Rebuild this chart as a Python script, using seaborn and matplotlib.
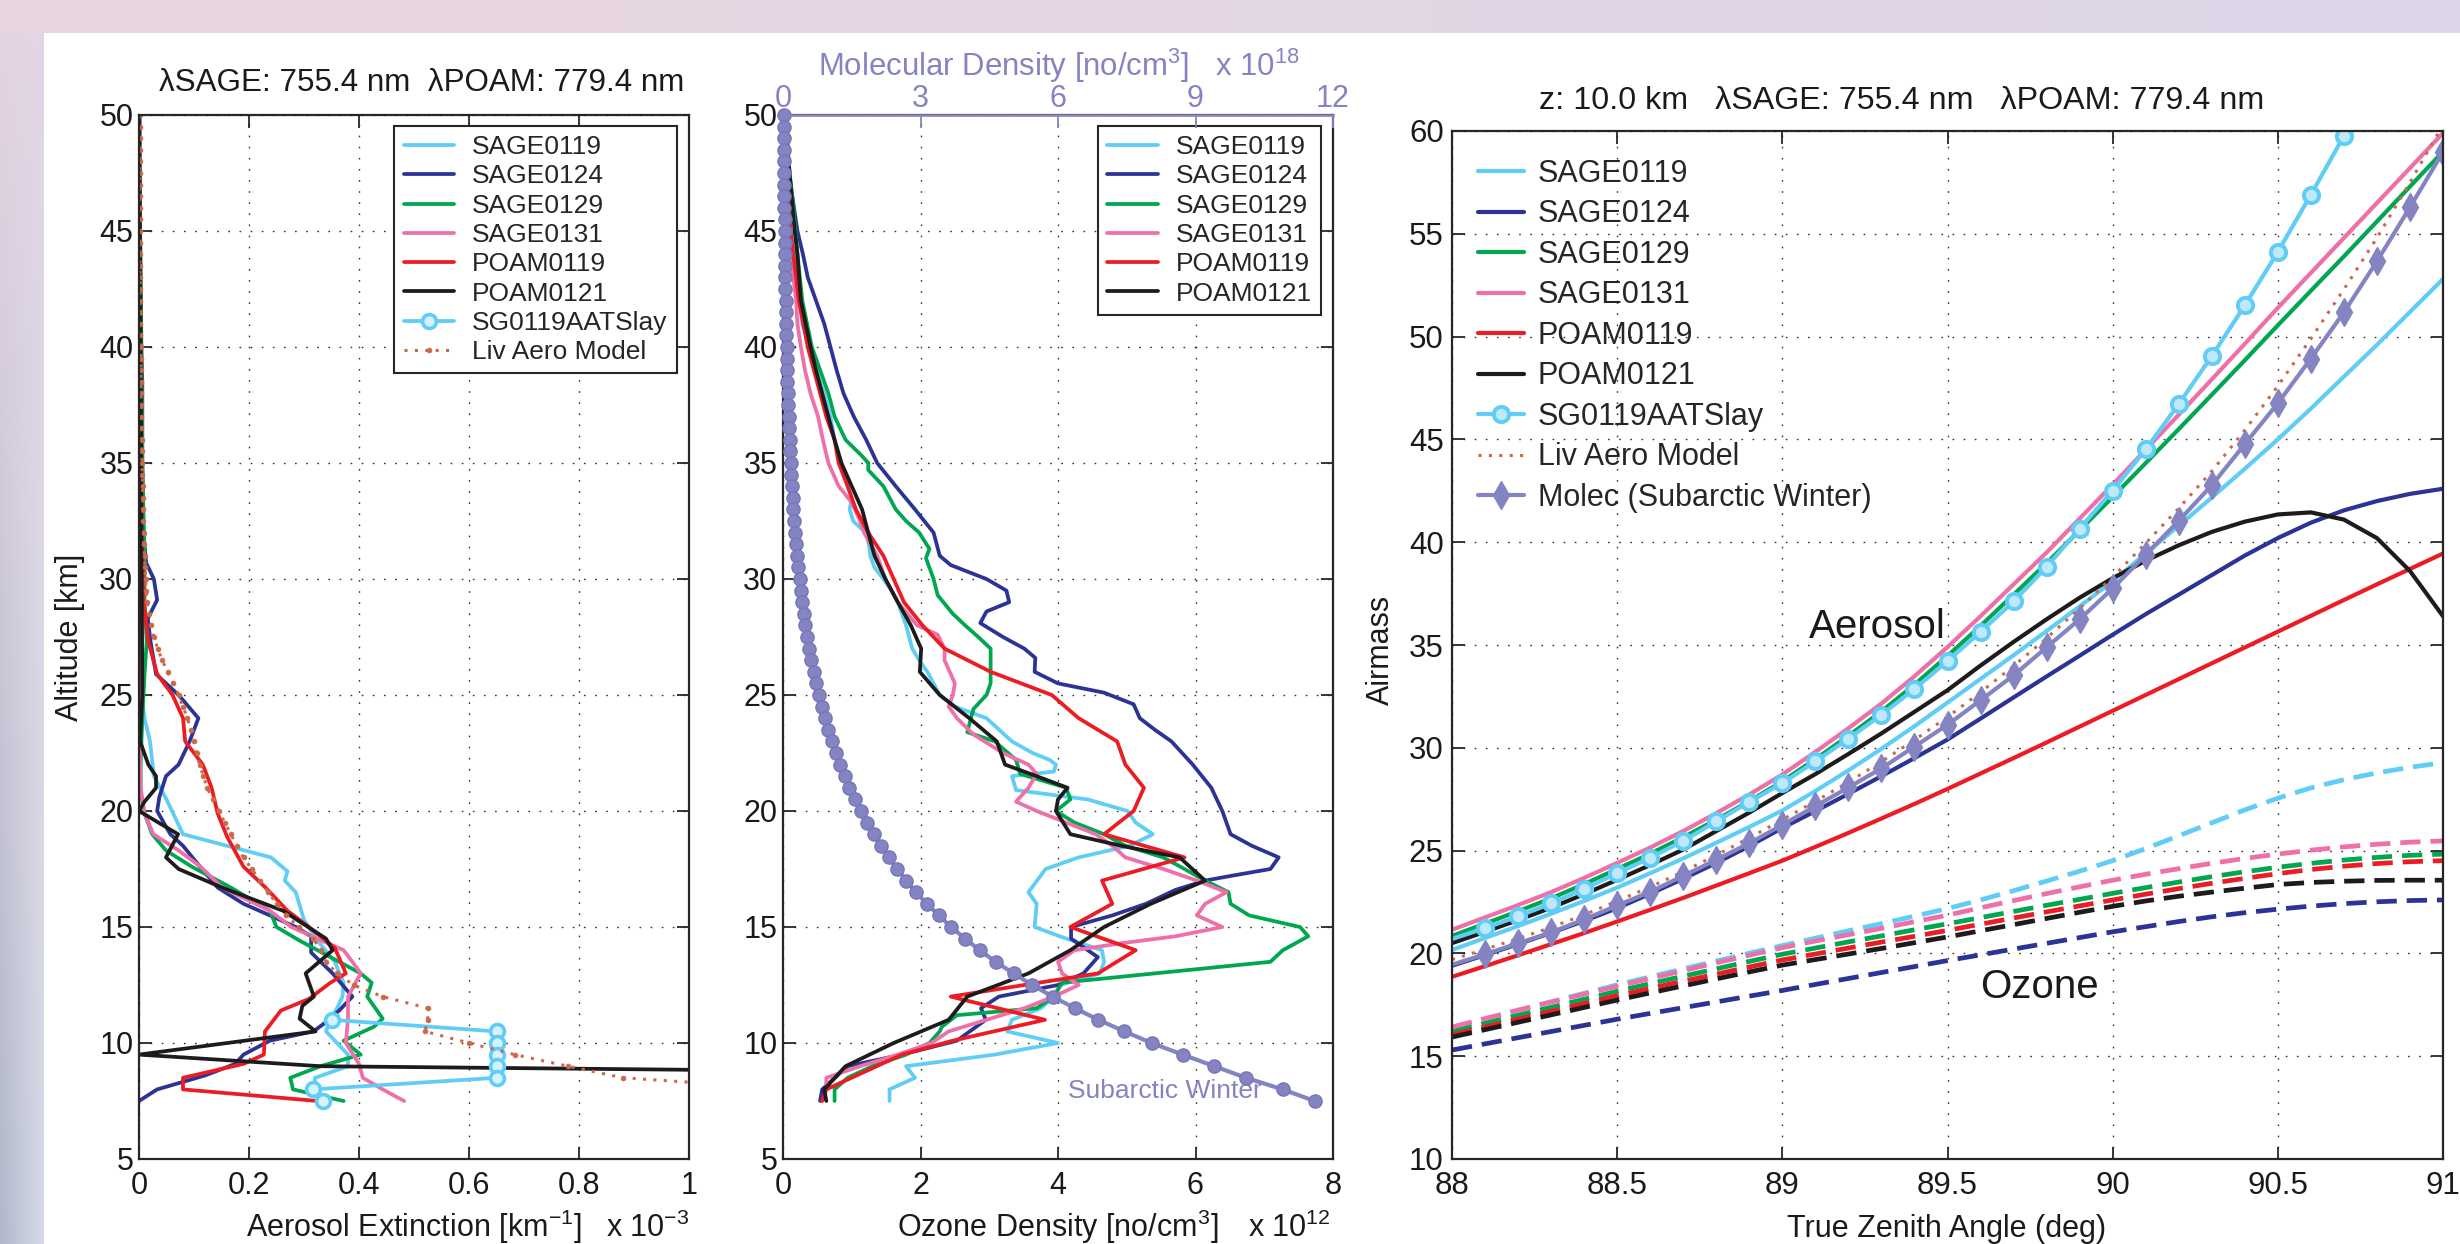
import numpy as np
import matplotlib
matplotlib.use("Agg")
import matplotlib.pyplot as plt
import seaborn as sns

# ---------------------------------------------------------------- colours
C_S19 = "#5FCDF5"    # SAGE0119 / SG0119AATSlay
C_S24 = "#2B3394"    # SAGE0124
C_S29 = "#00A650"    # SAGE0129
C_S31 = "#EF6FA9"    # SAGE0131
C_P19 = "#EC1C24"    # POAM0119
C_P21 = "#1E1B1C"    # POAM0121
C_LIV = "#C9694A"    # Liv aerosol model
C_MOL = "#8484C2"    # molecular density / Rayleigh airmass
AXC = "#262626"

# ---------------------------------------------------------------- panel 1: aerosol extinction (x 1e-3 km^-1)
aer_sage0119_alt = [50, 45, 40, 35, 32, 30, 29, 27, 25, 24, 23, 21.5, 20.5, 20, 19, 18.5, 18, 17.4,
                    17, 16.5, 15.3, 14.4, 13.5, 12.6, 12, 11.5, 11, 10.5, 10, 9.5, 9, 8.5, 8, 7.5]
aer_sage0119 = [0.001, 0.001, 0.002, 0.003, 0.004, 0.005, 0.005, 0.005, 0.005, 0.01, 0.02, 0.027, 0.05,
                0.06, 0.08, 0.16, 0.24, 0.27, 0.265, 0.285, 0.30, 0.325, 0.356, 0.372, 0.37, 0.36, 0.348,
                0.34, 0.36, 0.38, 0.38, 0.32, 0.32, 0.33]

aer_sage0124_alt = [50, 45, 40, 38.5, 35, 32, 30.7, 30, 29.1, 28.3, 27.3, 25.9, 25, 24, 23, 22, 21.5,
                    20.6, 20, 19, 18.5, 17.8, 16.7, 16, 15.5, 15, 14.6, 13.9, 13, 12, 11.4, 10.9, 10.5,
                    10.1, 9.5, 9.1, 8.6, 8, 7.5]
aer_sage0124 = [0.001, 0.002, 0.004, 0.006, 0.006, 0.008, 0.013, 0.027, 0.033, 0.016, 0.021, 0.031,
                0.072, 0.108, 0.092, 0.072, 0.049, 0.037, 0.033, 0.057, 0.08, 0.104, 0.143, 0.19, 0.238,
                0.285, 0.313, 0.313, 0.352, 0.388, 0.364, 0.34, 0.317, 0.238, 0.19, 0.175, 0.12, 0.033, 0.0]

aer_sage0129_alt = [50, 45, 41, 35, 31, 29.1, 27.3, 25.9, 24, 22, 20.8, 19.9, 19, 18.3, 17.6, 16.7,
                    15.7, 15, 14.4, 13.5, 13, 12.6, 12, 11.05, 10.7, 10.1, 9.5, 9, 8.5, 8, 7.5]
aer_sage0129 = [0.0, 0.002, 0.004, 0.006, 0.01, 0.01, 0.014, 0.01, 0.006, 0.003, 0.003, 0.01, 0.024,
                0.049, 0.096, 0.167, 0.238, 0.25, 0.293, 0.364, 0.403, 0.423, 0.415, 0.443, 0.427,
                0.372, 0.403, 0.33, 0.275, 0.28, 0.372]

aer_sage0131_alt = [50, 40, 30, 27.3, 25, 23, 21, 19.9, 19, 18.3, 17.6, 16.7, 15.7, 15, 14.4, 14,
                    13.5, 13, 12, 11.05, 10, 9.1, 8.5, 8, 7.5]
aer_sage0131 = [0.0, 0.001, 0.002, 0.0, 0.002, 0.001, 0.003, 0.01, 0.026, 0.072, 0.112, 0.151, 0.238,
                0.277, 0.333, 0.372, 0.388, 0.403, 0.38, 0.38, 0.376, 0.40, 0.407, 0.443, 0.482]

aer_poam0119_alt = [50, 40, 32, 30, 29.1, 27.3, 25.9, 25, 24, 23, 22, 21, 19.9, 18.9, 17.6, 16.7,
                    15.7, 15, 14.1, 13, 12.6, 11.9, 11.4, 10.5, 9.5, 9.1, 8.5, 8, 7.5]
aer_poam0119 = [0.0, 0.002, 0.004, 0.008, 0.008, 0.017, 0.033, 0.061, 0.08, 0.084, 0.116, 0.132, 0.143,
                0.16, 0.19, 0.23, 0.27, 0.309, 0.356, 0.376, 0.348, 0.309, 0.258, 0.229, 0.227, 0.19,
                0.08, 0.08, 0.325]

aer_poam0121_alt = [50, 40, 30, 25, 23, 22, 21.5, 21, 20.4, 20, 19, 18, 17.5, 16.7, 15.7, 14.5, 14,
                    13, 12, 11.6, 11.05, 10.5, 9.5, 9.0, 8.5]
aer_poam0121 = [0.0, 0.003, 0.005, 0.006, 0.002, 0.017, 0.031, 0.031, 0.01, 0.0, 0.071, 0.049, 0.072,
                0.151, 0.262, 0.34, 0.352, 0.303, 0.318, 0.297, 0.292, 0.321, 0.0, 0.33, 2.5]

aer_sg0119_alt = [11, 10.5, 10, 9.5, 9, 8.5, 8, 7.5]
aer_sg0119 = [0.35, 0.65, 0.65, 0.65, 0.65, 0.65, 0.317, 0.334]

# common 0.5 km altitude grid (model / climatology levels)
grid_alt = [50.0, 49.5, 49.0, 48.5, 48.0, 47.5, 47.0, 46.5, 46.0, 45.5, 45.0, 44.5, 44.0, 43.5, 43.0,
            42.5, 42.0, 41.5, 41.0, 40.5, 40.0, 39.5, 39.0, 38.5, 38.0, 37.5, 37.0, 36.5, 36.0, 35.5,
            35.0, 34.5, 34.0, 33.5, 33.0, 32.5, 32.0, 31.5, 31.0, 30.5, 30.0, 29.5, 29.0, 28.5, 28.0,
            27.5, 27.0, 26.5, 26.0, 25.5, 25.0, 24.5, 24.0, 23.5, 23.0, 22.5, 22.0, 21.5, 21.0, 20.5,
            20.0, 19.5, 19.0, 18.5, 18.0, 17.5, 17.0, 16.5, 16.0, 15.5, 15.0, 14.5, 14.0, 13.5, 13.0,
            12.5, 12.0, 11.5, 11.0, 10.5, 10.0, 9.5, 9.0, 8.5, 8.0, 7.5]

aer_liv = [0.001, 0.001, 0.001, 0.001, 0.001, 0.001, 0.001, 0.001, 0.001, 0.001,
           0.0015, 0.0015, 0.0015, 0.0015, 0.002, 0.002, 0.002, 0.002, 0.0025, 0.0025,
           0.003, 0.003, 0.003, 0.0035, 0.0035, 0.004, 0.004, 0.0045, 0.005, 0.005,
           0.0055, 0.006, 0.0065, 0.007, 0.0075, 0.008, 0.0085, 0.009, 0.01, 0.011,
           0.012, 0.013, 0.015, 0.018, 0.022, 0.027, 0.034, 0.042, 0.052, 0.062,
           0.072, 0.08, 0.088, 0.094, 0.10, 0.105, 0.11, 0.117, 0.124, 0.134,
           0.145, 0.156, 0.167, 0.178, 0.19, 0.205, 0.22, 0.235, 0.25, 0.268,
           0.29, 0.317, 0.33, 0.34, 0.36, 0.39, 0.443, 0.525, 0.525, 0.52,
           0.60, 0.683, 0.78, 0.88, 1.2]
aer_liv_alt = grid_alt[:len(aer_liv)]

# ---------------------------------------------------------------- panel 2: ozone (x 1e12 cm^-3), molecules (x 1e18 cm^-3)
oz_sage0119_alt = [50, 45, 43, 42, 41, 40, 39, 38, 37, 36, 35, 34, 33.5, 33, 32.5, 32, 31.5, 31, 30.5,
                   30, 29.5, 29, 28, 27, 26.5, 26, 25, 24.5, 24, 23, 22.5, 22.2, 22, 21.7, 21.5, 20.9,
                   20.5, 20, 19.5, 19, 18.5, 18, 17.5, 16.5, 16, 15, 14.5, 14, 13.5, 13, 12.5, 12, 11.5,
                   11, 10.5, 10, 9.5, 9, 8.5, 8, 7.5]
oz_sage0119 = [0.02, 0.11, 0.20, 0.245, 0.28, 0.39, 0.48, 0.60, 0.69, 0.75, 0.85, 0.94, 1.0, 0.97, 1.02,
               1.2, 1.25, 1.27, 1.33, 1.46, 1.58, 1.67, 1.79, 1.88, 1.98, 2.10, 2.28, 2.50, 2.96, 3.33,
               3.63, 3.88, 3.97, 3.94, 3.33, 3.39, 4.43, 5.01, 5.13, 5.38, 5.04, 4.30, 3.82, 3.57, 3.69,
               3.66, 4.12, 4.64, 4.67, 4.61, 4.03, 3.94, 3.75, 3.33, 3.26, 4.0, 3.08, 1.79, 1.92, 1.55,
               1.55]

oz_sage0124_alt = [50, 47, 45, 44, 43, 42, 41, 40, 39, 38, 37, 36, 35, 34, 33, 32, 31, 30.6, 30, 29.5,
                   29.0, 28.6, 28.1, 27.5, 27.0, 26.6, 26, 25.5, 25.1, 24.6, 24, 23.5, 23, 22, 21, 20,
                   19, 18.5, 18, 17.5, 17.2, 17, 16.6, 16, 15.5, 15, 14.5, 13.7, 13.0, 12.5, 12.0, 11.5,
                   11.0, 10.1, 9.5, 9.0, 8.0, 7.5]
oz_sage0124 = [0.02, 0.11, 0.21, 0.29, 0.36, 0.48, 0.60, 0.69, 0.78, 0.88, 1.03, 1.21, 1.37, 1.64, 1.92,
               2.19, 2.28, 2.44, 2.96, 3.25, 3.29, 2.96, 2.87, 3.20, 3.51, 3.67, 3.66, 4.0, 4.67, 5.10,
               5.19, 5.41, 5.65, 5.96, 6.23, 6.39, 6.51, 6.82, 7.21, 7.09, 6.51, 6.14, 5.71, 5.28, 4.79,
               4.19, 4.19, 4.58, 4.37, 4.0, 3.14, 2.88, 2.95, 2.53, 1.73, 0.94, 0.57, 0.54]

oz_sage0129_alt = [50, 48, 46, 44, 42, 40, 39, 38, 37, 36, 35.3, 35, 34.7, 34, 33, 32.5, 32, 31.3, 30.9,
                   30, 29.3, 28.5, 28, 27.5, 27, 26.4, 25.5, 25, 24.4, 23.4, 23, 22.2, 21.6, 21, 20.5,
                   20, 19.5, 19, 18.5, 18, 17.5, 17, 16.5, 16, 15.5, 15, 14.6, 14, 13.5, 12.6, 12, 11.5,
                   11.2, 10.7, 10.5, 10, 9.5, 9, 8.5, 8, 7.5]
oz_sage0129 = [0.05, 0.08, 0.15, 0.21, 0.28, 0.42, 0.54, 0.66, 0.75, 0.91, 1.15, 1.24, 1.24, 1.46, 1.64,
               1.79, 1.98, 2.13, 2.08, 2.19, 2.25, 2.47, 2.65, 2.84, 3.02, 3.02, 3.02, 2.96, 2.77, 2.68,
               3.08, 3.39, 3.45, 4.12, 4.18, 3.97, 4.24, 4.67, 4.98, 5.53, 5.84, 6.14, 6.48, 6.51, 6.78,
               7.52, 7.64, 7.27, 7.09, 4.06, 3.94, 3.69, 2.53, 2.31, 2.28, 2.13, 1.79, 1.30, 0.94, 0.75,
               0.75]

oz_sage0131_alt = [50, 46, 44, 43, 42, 41, 40, 39, 38, 37, 36, 35, 34, 33.3, 32.5, 32, 31, 30, 29, 28,
                   27.6, 27, 26.5, 25.9, 25.5, 25, 24.5, 24, 23.3, 22.5, 22, 21.6, 21, 20.4, 20, 19.5,
                   19, 18.5, 18, 17.5, 17, 16.5, 16, 15.5, 15, 14.6, 14.3, 14, 13.5, 13, 12.5, 12, 11.5,
                   11, 10.5, 10, 9.5, 9, 8.5, 8.2]
oz_sage0131 = [0.02, 0.07, 0.11, 0.15, 0.19, 0.21, 0.26, 0.32, 0.40, 0.51, 0.58, 0.66, 0.81, 1.0, 1.12,
               1.18, 1.37, 1.49, 1.67, 1.95, 2.25, 2.35, 2.35, 2.44, 2.50, 2.47, 2.41, 2.53, 2.77, 3.20,
               3.57, 3.69, 3.57, 3.39, 3.69, 4.12, 4.55, 4.79, 4.98, 5.53, 6.02, 6.45, 6.14, 6.02, 6.39,
               5.71, 4.92, 4.24, 4.0, 4.06, 4.30, 3.94, 3.51, 2.96, 2.41, 2.16, 1.67, 1.12, 0.63, 0.63]

oz_poam0119_alt = [50, 45, 44, 42, 40, 39, 38, 37, 36, 35, 34, 33, 32, 31, 30, 29, 28, 27, 26, 25, 24,
                   23, 22, 21, 20, 19, 18, 17, 16, 15, 14, 13, 12, 11, 10.1, 9.5, 8, 7.5]
oz_poam0119 = [0.02, 0.11, 0.15, 0.23, 0.36, 0.45, 0.54, 0.63, 0.75, 0.81, 0.94, 1.06, 1.24, 1.46, 1.61,
               1.76, 2.03, 2.35, 3.02, 3.91, 4.30, 4.86, 4.98, 5.25, 5.10, 4.67, 5.84, 4.64, 4.79, 4.18,
               5.13, 4.58, 2.44, 3.81, 2.47, 1.73, 0.63, 0.57]

oz_poam0121_alt = [50, 45, 44, 42, 40, 39, 38, 37, 36, 35, 34, 33, 32, 31, 30, 29, 28, 27, 26, 25, 24,
                   23, 22, 21.5, 21, 20.5, 20, 19, 18.5, 18, 17, 16, 15, 14, 13, 12, 11, 10, 9, 8, 7.5]
oz_poam0121 = [0.02, 0.17, 0.21, 0.26, 0.40, 0.48, 0.57, 0.66, 0.75, 0.85, 1.0, 1.15, 1.24, 1.33, 1.49,
               1.67, 1.86, 2.01, 1.99, 2.28, 2.71, 3.11, 3.23, 3.69, 4.14, 4.0, 3.97, 4.18, 4.92, 5.77,
               6.14, 5.35, 4.67, 4.18, 3.57, 2.68, 2.41, 1.61, 0.91, 0.60, 0.63]

mol_density = [0.016, 0.017, 0.019, 0.020, 0.022, 0.024, 0.026, 0.028, 0.030, 0.033,
               0.036, 0.039, 0.042, 0.045, 0.049, 0.053, 0.057, 0.062, 0.067, 0.072,
               0.078, 0.084, 0.091, 0.098, 0.106, 0.114, 0.123, 0.133, 0.143, 0.155,
               0.167, 0.180, 0.195, 0.210, 0.227, 0.245, 0.265, 0.286, 0.309, 0.334,
               0.361, 0.39, 0.42, 0.455, 0.49, 0.53, 0.575, 0.62, 0.67, 0.725,
               0.78, 0.845, 0.91, 0.985, 1.065, 1.15, 1.245, 1.345, 1.45, 1.57,
               1.70, 1.84, 1.98, 2.14, 2.31, 2.49, 2.69, 2.90, 3.14, 3.40,
               3.67, 3.97, 4.29, 4.64, 5.03, 5.44, 5.88, 6.37, 6.88, 7.45,
               8.04, 8.72, 9.41, 10.1, 10.9, 11.6]
mol_alt = grid_alt

# ---------------------------------------------------------------- panel 3: airmass vs true zenith angle
sza = [88.0, 88.1, 88.2, 88.3, 88.4, 88.5, 88.6, 88.7, 88.8, 88.9, 89.0, 89.1, 89.2, 89.3, 89.4, 89.5,
       89.6, 89.7, 89.8, 89.9, 90.0, 90.1, 90.2, 90.3, 90.4, 90.5, 90.6, 90.7, 90.8, 90.9, 91.0]

am_sage0119 = [20.17, 20.75, 21.33, 21.93, 22.55, 23.20, 23.90, 24.62, 25.38, 26.15, 26.95, 27.90, 28.90,
               29.95, 31.05, 32.20, 33.35, 34.50, 35.68, 36.88, 38.10, 39.45, 40.80, 42.17, 43.57, 45.00,
               46.50, 48.05, 49.60, 51.20, 52.80]
am_sage0124 = [19.40, 19.92, 20.45, 21.00, 21.58, 22.20, 22.90, 23.63, 24.40, 25.22, 26.10, 26.92, 27.76,
               28.62, 29.50, 30.40, 31.42, 32.45, 33.47, 34.48, 35.50, 36.50, 37.45, 38.40, 39.35, 40.20,
               40.95, 41.55, 42.00, 42.35, 42.60]
am_sage0129 = [20.85, 21.45, 22.05, 22.68, 23.37, 24.10, 24.85, 25.65, 26.50, 27.40, 28.37, 29.45, 30.58,
               31.77, 33.07, 34.47, 35.93, 37.45, 38.98, 40.58, 42.20, 43.85, 45.50, 47.17, 48.85, 50.55,
               52.23, 53.90, 55.60, 57.30, 59.00]
am_sage0131 = [21.15, 21.75, 22.35, 22.98, 23.67, 24.40, 25.15, 25.95, 26.82, 27.73, 28.70, 29.80, 30.95,
               32.15, 33.48, 34.90, 36.40, 37.95, 39.50, 41.15, 42.80, 44.50, 46.20, 47.92, 49.65, 51.40,
               53.10, 54.80, 56.50, 58.20, 59.90]
am_poam0119 = [18.86, 19.38, 19.91, 20.45, 20.99, 21.55, 22.12, 22.70, 23.30, 23.90, 24.51, 25.18, 25.86,
               26.56, 27.27, 28.00, 28.75, 29.50, 30.26, 31.03, 31.80, 32.57, 33.34, 34.11, 34.88, 35.65,
               36.42, 37.19, 37.95, 38.70, 39.45]
am_poam0121 = [20.50, 21.05, 21.62, 22.22, 22.88, 23.58, 24.30, 25.05, 25.95, 26.85, 27.80, 28.72, 29.70,
               30.70, 31.75, 32.80, 34.00, 35.15, 36.25, 37.30, 38.25, 39.10, 39.85, 40.50, 41.00, 41.35,
               41.45, 41.10, 40.20, 38.60, 36.40]
am_sg0119 = [20.70, 21.23, 21.80, 22.44, 23.14, 23.90, 24.65, 25.47, 26.42, 27.37, 28.28, 29.34, 30.44,
             31.61, 32.86, 34.22, 35.64, 37.12, 38.80, 40.66, 42.51, 44.51, 46.72, 49.05, 51.52, 54.12,
             56.90, 59.76]
am_liv = [19.70, 20.20, 20.72, 21.27, 21.88, 22.55, 23.23, 23.98, 24.78, 25.62, 26.50, 27.40, 28.33,
          29.33, 30.38, 31.50, 32.70, 33.98, 35.33, 36.78, 38.30, 39.95, 41.65, 43.45, 45.45, 47.60,
          49.90, 52.30, 54.80, 57.50, 60.30]
am_molec = [19.45, 19.96, 20.49, 21.02, 21.65, 22.33, 22.99, 23.77, 24.55, 25.36, 26.25, 27.16, 28.07,
            29.00, 30.06, 31.12, 32.31, 33.52, 34.89, 36.25, 37.75, 39.39, 41.04, 42.77, 44.77, 46.76,
            48.93, 51.18, 53.66, 56.29, 58.98]

# ozone airmass (dashed)
amo_sage0119 = [16.36, 16.80, 17.23, 17.65, 18.06, 18.47, 18.86, 19.25, 19.63, 20.01, 20.38, 20.74, 21.10,
                21.45, 21.81, 22.18, 22.60, 23.05, 23.52, 24.00, 24.51, 25.10, 25.72, 26.35, 26.98, 27.55,
                28.05, 28.45, 28.78, 29.05, 29.28]
amo_sage0131 = [16.42, 16.83, 17.24, 17.63, 18.02, 18.40, 18.78, 19.16, 19.54, 19.91, 20.28, 20.60, 20.91,
                21.22, 21.54, 21.86, 22.22, 22.57, 22.91, 23.24, 23.56, 23.85, 24.12, 24.38, 24.62, 24.83,
                25.02, 25.18, 25.31, 25.41, 25.47]
amo_sage0129 = [16.20, 16.60, 16.99, 17.38, 17.77, 18.16, 18.53, 18.89, 19.25, 19.61, 19.96, 20.26, 20.56,
                20.85, 21.15, 21.44, 21.74, 22.04, 22.34, 22.63, 22.92, 23.20, 23.47, 23.73, 23.97, 24.19,
                24.38, 24.54, 24.67, 24.77, 24.83]
amo_poam0119 = [16.04, 16.42, 16.80, 17.18, 17.56, 17.94, 18.30, 18.65, 18.99, 19.34, 19.68, 19.97, 20.26,
                20.55, 20.83, 21.12, 21.42, 21.72, 22.02, 22.31, 22.60, 22.88, 23.15, 23.41, 23.65, 23.88,
                24.08, 24.24, 24.37, 24.46, 24.51]
amo_poam0121 = [15.93, 16.29, 16.65, 17.01, 17.37, 17.73, 18.08, 18.42, 18.76, 19.10, 19.43, 19.70, 19.97,
                20.24, 20.52, 20.80, 21.10, 21.40, 21.70, 22.00, 22.29, 22.55, 22.78, 22.98, 23.17, 23.35,
                23.45, 23.51, 23.55, 23.56, 23.56]
amo_sage0124 = [15.30, 15.60, 15.90, 16.20, 16.50, 16.80, 17.08, 17.36, 17.64, 17.92, 18.20, 18.49, 18.78,
                19.07, 19.36, 19.65, 19.93, 20.21, 20.49, 20.77, 21.05, 21.30, 21.55, 21.78, 21.98, 22.15,
                22.30, 22.42, 22.51, 22.57, 22.60]

# ---------------------------------------------------------------- ticks
alt_ticks = [5, 10, 15, 20, 25, 30, 35, 40, 45, 50]
ext_ticks = [0, 0.2, 0.4, 0.6, 0.8, 1.0]
ext_labels = ["0", "0.2", "0.4", "0.6", "0.8", "1"]
oz_ticks = [0, 2, 4, 6, 8]
mol_ticks = [0, 3, 6, 9, 12]
sza_ticks = [88, 88.5, 89, 89.5, 90, 90.5, 91]
sza_labels = ["88", "88.5", "89", "89.5", "90", "90.5", "91"]
am_ticks = [10, 15, 20, 25, 30, 35, 40, 45, 50, 55, 60]

series_names = ["SAGE0119", "SAGE0124", "SAGE0129", "SAGE0131", "POAM0119", "POAM0121"]

# ---------------------------------------------------------------- style
sns.set_theme(style="white")
plt.rcParams["font.family"] = ["Liberation Sans", "DejaVu Sans"]
plt.rcParams["mathtext.fontset"] = "custom"
plt.rcParams["mathtext.rm"] = "Liberation Sans"
plt.rcParams["mathtext.it"] = "Liberation Sans:italic"
plt.rcParams["mathtext.bf"] = "Liberation Sans:bold"

W, H = 2460, 1244
fig = plt.figure(figsize=(W / 100, H / 100), dpi=100, facecolor="white")

# page backdrop: tinted band along the top and the left edge
bg = np.full((H, W, 3), 255, dtype=np.uint8)
s = np.linspace(0.0, 1.0, W)[:, None]
band = (1 - s) * np.array([233, 213, 223]) + s * np.array([221, 214, 233])
bg[:33] = band[None, :, :].astype(np.uint8)
t = np.linspace(0.0, 1.0, H - 33)[:, None, None]
u = np.linspace(0.0, 1.0, 44)[None, :, None]
edge = (1 - t) * np.array([228, 212, 226]) + t * np.array([176, 184, 202])
light = (1 - t) * np.array([226, 214, 230]) + t * np.array([214, 218, 230])
strip = edge + (light - edge) * u
bg[33:, :44] = strip.astype(np.uint8)
fig.figimage(bg, 0, 0, origin="upper", zorder=-10)


def rect(l, t_, r, b):
    return [l / W, 1 - b / H, (r - l) / W, (b - t_) / H]


def style_axes(ax, fs=22, top=True):
    ax.set_facecolor("white")
    for sp in ax.spines.values():
        sp.set_visible(True)
        sp.set_color(AXC)
        sp.set_linewidth(1.6)
    ax.tick_params(axis="both", which="major", direction="in", length=9, width=1.3, color=AXC,
                   labelcolor="#1a1a1a", labelsize=fs, bottom=True, left=True, top=top, right=True)
    ax.tick_params(axis="x", pad=9)
    ax.tick_params(axis="y", pad=4)
    ax.grid(True, color="#333333", linestyle=(0, (1.2, 6.8)), linewidth=1.0)
    ax.set_axisbelow(True)


def draw(ax, x, y, **kw):
    sns.lineplot(x=np.asarray(x, float), y=np.asarray(y, float), sort=False, estimator=None,
                 ax=ax, legend=False, **kw)
    return ax.lines[-1]


ax1 = fig.add_axes(rect(139, 115, 689, 1159))
ax2 = fig.add_axes(rect(783, 115, 1333, 1159))
ax3 = fig.add_axes(rect(1452, 131, 2443, 1159))

LW = 2.7
colors = [C_S19, C_S24, C_S29, C_S31, C_P19, C_P21]

# ---------------------------------------------------------------- panel 1
aer_x = [aer_sage0119, aer_sage0124, aer_sage0129, aer_sage0131, aer_poam0119, aer_poam0121]
aer_y = [aer_sage0119_alt, aer_sage0124_alt, aer_sage0129_alt, aer_sage0131_alt, aer_poam0119_alt,
         aer_poam0121_alt]
h1 = []
for xv, yv, c in zip(aer_x, aer_y, colors):
    h1.append(draw(ax1, xv, yv, color=c, lw=LW))
h1.append(draw(ax1, aer_sg0119, aer_sg0119_alt, color=C_S19, lw=LW, marker="o", markersize=10,
               markerfacecolor="#d6f2fd", markeredgecolor=C_S19, markeredgewidth=2.6))
h1.append(draw(ax1, aer_liv, aer_liv_alt, color=C_LIV, lw=2.2, linestyle=(0, (1, 2.4)), marker=".",
               markersize=7, markerfacecolor=C_LIV, markeredgecolor=C_LIV, markeredgewidth=0.5))
ax1.set_xlim(0, 1)
ax1.set_ylim(5, 50)
ax1.set_xticks(ext_ticks)
ax1.set_xticklabels(ext_labels)
ax1.set_yticks(alt_ticks)
ax1.set_yticklabels([str(v) for v in alt_ticks])
ax1.set_xlabel("")
ax1.set_ylabel("")
style_axes(ax1)
labels1 = series_names + ["SG0119AATSlay", "Liv Aero Model"]
leg1 = ax1.legend(h1, labels1, loc="upper right", bbox_to_anchor=(0.978, 0.9895), borderaxespad=0,
                  fontsize=19, frameon=True, fancybox=False, edgecolor=AXC, framealpha=1,
                  handlelength=1.9, handletextpad=0.7, labelspacing=0.2, borderpad=0.35)
leg1.get_frame().set_linewidth(1.5)

# ---------------------------------------------------------------- panel 2
oz_x = [oz_sage0119, oz_sage0124, oz_sage0129, oz_sage0131, oz_poam0119, oz_poam0121]
oz_y = [oz_sage0119_alt, oz_sage0124_alt, oz_sage0129_alt, oz_sage0131_alt, oz_poam0119_alt,
        oz_poam0121_alt]
h2 = []
for xv, yv, c in zip(oz_x, oz_y, colors):
    h2.append(draw(ax2, xv, yv, color=c, lw=LW))
ax2.set_xlim(0, 8)
ax2.set_xticks(oz_ticks)
ax2.set_xticklabels([str(v) for v in oz_ticks])
ax2.set_yticks(alt_ticks)
ax2.set_yticklabels([str(v) for v in alt_ticks])
ax2.set_xlabel("")
ax2.set_ylabel("")
style_axes(ax2, top=False)
ax2.text(4.15, 7.63, "Subarctic Winter", color=C_MOL, fontsize=19, va="baseline", ha="left")
leg2 = ax2.legend(h2, series_names, loc="upper right", bbox_to_anchor=(0.979, 0.9895), borderaxespad=0,
                  fontsize=19, frameon=True, fancybox=False, edgecolor=AXC, framealpha=1,
                  handlelength=1.9, handletextpad=0.7, labelspacing=0.2, borderpad=0.35)
leg2.get_frame().set_linewidth(1.5)

twin = ax2.twiny()
draw(twin, mol_density, mol_alt, color=C_MOL, lw=3.0, marker="o", markersize=9.5,
     markerfacecolor=C_MOL, markeredgecolor="#7676b8", markeredgewidth=1.0, clip_on=False)
twin.set_xlim(0, 12)
twin.set_xticks(mol_ticks)
twin.set_xticklabels([str(v) for v in mol_ticks])
twin.set_xlabel("")
twin.set_ylabel("")
twin.grid(False)
for name, sp in twin.spines.items():
    sp.set_visible(name == "top")
twin.spines["top"].set_color(C_MOL)
twin.spines["top"].set_linewidth(1.8)
twin.tick_params(axis="x", which="major", direction="in", length=9, width=1.3, color=C_MOL,
                 labelcolor=C_MOL, labelsize=22, pad=1, top=True, bottom=False)
ax2.set_ylim(5, 50)

# ---------------------------------------------------------------- panel 3
am_y = [am_sage0119, am_sage0124, am_sage0129, am_sage0131, am_poam0119, am_poam0121]
h3 = []
for yv, c in zip(am_y, colors):
    h3.append(draw(ax3, sza, yv, color=c, lw=3.0))
h3.append(draw(ax3, sza[:len(am_sg0119)], am_sg0119, color=C_S19, lw=3.0, marker="o", markersize=11,
               markerfacecolor="#bfe9fb", markeredgecolor=C_S19, markeredgewidth=2.8,
               markevery=slice(1, None)))
h3.append(draw(ax3, sza, am_liv, color=C_LIV, lw=2.2, linestyle=(0, (1, 2.4))))
h3.append(draw(ax3, sza, am_molec, color=C_MOL, lw=3.0, marker="d", markersize=14,
               markerfacecolor=C_MOL, markeredgecolor=C_MOL, markeredgewidth=1.0,
               markevery=slice(1, None)))
amo_y = [amo_sage0119, amo_sage0124, amo_sage0129, amo_sage0131, amo_poam0119, amo_poam0121]
for yv, c in zip(amo_y, colors):
    draw(ax3, sza, yv, color=c, lw=3.4, linestyle=(0, (4.3, 2.1)))
ax3.set_xlim(88, 91)
ax3.set_ylim(10, 60)
ax3.set_xticks(sza_ticks)
ax3.set_xticklabels(sza_labels)
ax3.set_yticks(am_ticks)
ax3.set_yticklabels([str(v) for v in am_ticks])
ax3.set_xlabel("")
ax3.set_ylabel("")
style_axes(ax3, fs=22.5)
ax3.tick_params(axis="y", pad=6)
ax3.text(89.08, 35.34, "Aerosol", fontsize=29, va="baseline", ha="left", color="#1a1a1a")
ax3.text(89.60, 17.85, "Ozone", fontsize=29, va="baseline", ha="left", color="#1a1a1a")
labels3 = series_names + ["SG0119AATSlay", "Liv Aero Model", "Molec (Subarctic Winter)"]
ax3.legend(h3, labels3, loc="upper left", bbox_to_anchor=(0.020, 0.979), borderaxespad=0,
           fontsize=22, frameon=False, handlelength=1.5, handletextpad=0.45, labelspacing=0.345,
           borderpad=0.2)

# ---------------------------------------------------------------- titles and axis labels
def ftext(x, y, s_, **kw):
    kw.setdefault("fontsize", 22)
    kw.setdefault("color", "#1a1a1a")
    fig.text(x / W, 1 - y / H, s_, **kw)


ftext(422, 91, "\u03bbSAGE: 755.4 nm  \u03bbPOAM: 779.4 nm", ha="center", va="baseline", fontsize=22.6)
ftext(1902, 109, "z: 10.0 km   \u03bbSAGE: 755.4 nm   \u03bbPOAM: 779.4 nm", ha="center",
      va="baseline", fontsize=23.2)
ftext(1059, 76, "Molecular Density [no/cm$^3$]   x 10$^{18}$", ha="center", va="baseline", color=C_MOL,
      fontsize=22.4)
ftext(414, 1237, "Aerosol Extinction [km$^{-1}$]", ha="center", va="baseline")
ftext(689, 1237, "x 10$^{-3}$", ha="right", va="baseline")
ftext(1058, 1237, "Ozone Density [no/cm$^3$]", ha="center", va="baseline")
ftext(1331, 1237, "x 10$^{12}$", ha="right", va="baseline")
ftext(1947, 1237, "True Zenith Angle (deg)", ha="center", va="baseline")
ftext(70, 637, "Altitude [km]", rotation=90, ha="center", va="center")
ftext(1381, 650, "Airmass", rotation=90, ha="center", va="center")

fig.savefig("out.png", dpi=100, facecolor="white")
